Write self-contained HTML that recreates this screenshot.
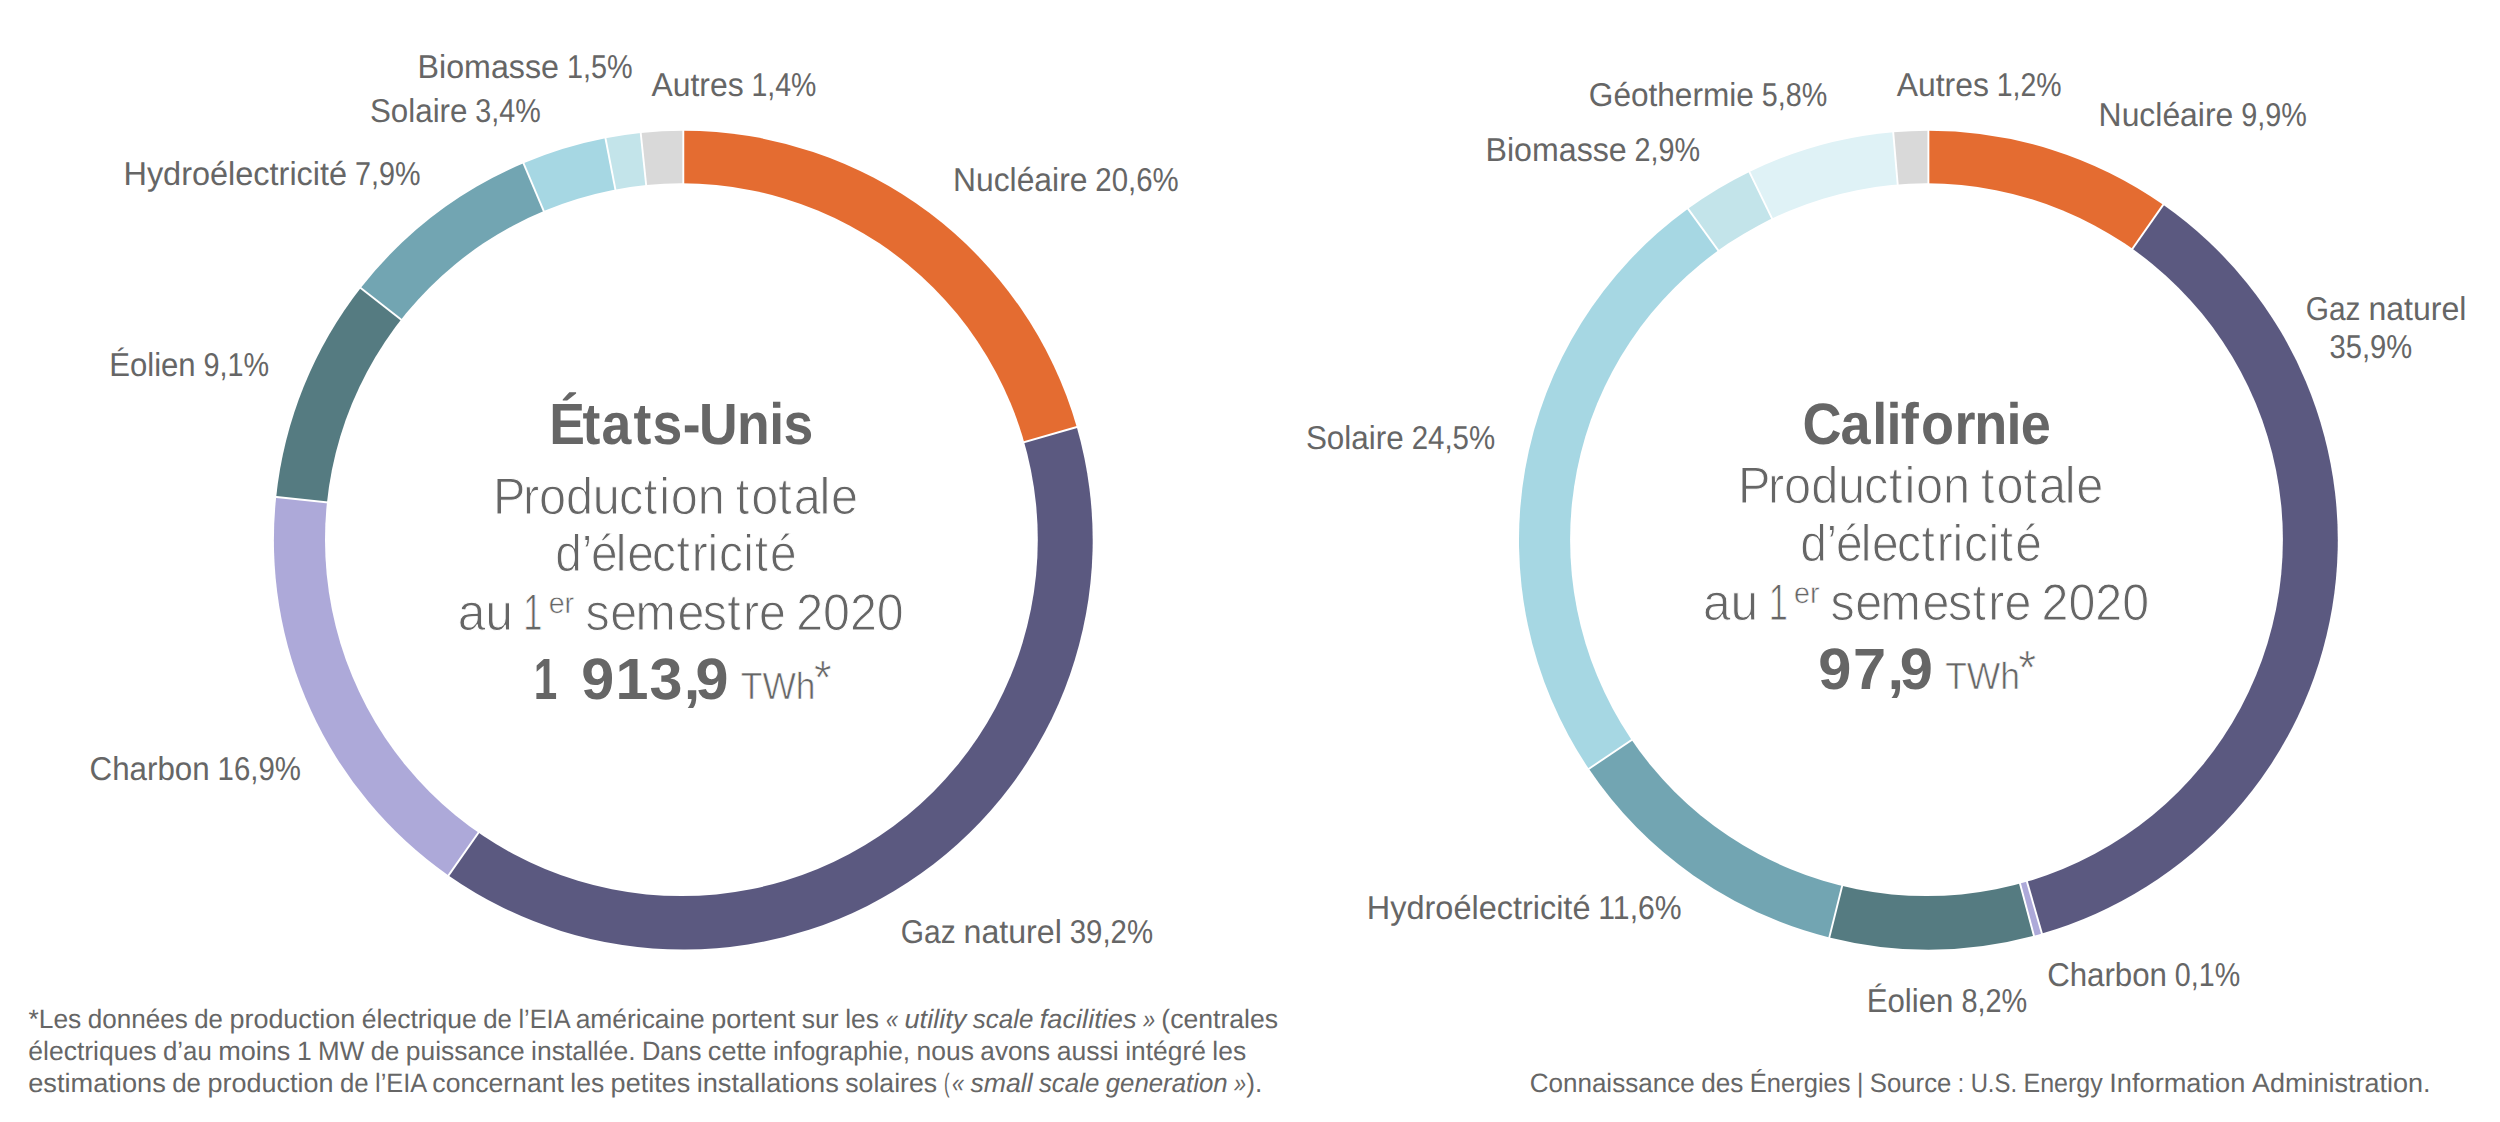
<!DOCTYPE html>
<html lang="fr"><head><meta charset="utf-8"><title>Production d’électricité : États-Unis et Californie</title>
<style>
html,body{margin:0;padding:0;background:#fff;}
body{width:2500px;height:1122px;overflow:hidden;}
svg{display:block;}
text{font-family:"Liberation Sans", sans-serif;fill:#666666;white-space:pre;text-rendering:geometricPrecision;}
</style></head><body>
<svg width="2500" height="1122" viewBox="0 0 2500 1122">
<rect width="2500" height="1122" fill="#fff"/>
<g>
<path fill="#E46C31" d="M683.3 540.15L683.30 130.75A409.4 409.4 0 0 1 1076.76 427.03Z"/>
<path fill="#5B5980" d="M683.3 540.15L1076.76 427.03A409.4 409.4 0 0 1 448.48 875.51Z"/>
<path fill="#ADA9D9" d="M683.3 540.15L448.48 875.51A409.4 409.4 0 0 1 276.18 497.00Z"/>
<path fill="#557B81" d="M683.3 540.15L276.18 497.00A409.4 409.4 0 0 1 360.69 288.10Z"/>
<path fill="#72A5B2" d="M683.3 540.15L360.69 288.10A409.4 409.4 0 0 1 523.47 163.24Z"/>
<path fill="#A6D7E3" d="M683.3 540.15L523.47 163.24A409.4 409.4 0 0 1 605.46 138.22Z"/>
<path fill="#C3E4EA" d="M683.3 540.15L605.46 138.22A409.4 409.4 0 0 1 640.72 132.97Z"/>
<path fill="#D9D9D9" d="M683.3 540.15L640.72 132.97A409.4 409.4 0 0 1 683.30 130.75Z"/>
<line x1="683.3" y1="540.15" x2="683.30" y2="128.75" stroke="#fff" stroke-width="1.9"/>
<line x1="683.3" y1="540.15" x2="1078.68" y2="426.48" stroke="#fff" stroke-width="1.9"/>
<line x1="683.3" y1="540.15" x2="447.33" y2="877.15" stroke="#fff" stroke-width="1.9"/>
<line x1="683.3" y1="540.15" x2="274.19" y2="496.79" stroke="#fff" stroke-width="1.9"/>
<line x1="683.3" y1="540.15" x2="359.11" y2="286.87" stroke="#fff" stroke-width="1.9"/>
<line x1="683.3" y1="540.15" x2="522.69" y2="161.40" stroke="#fff" stroke-width="1.9"/>
<line x1="683.3" y1="540.15" x2="605.08" y2="136.25" stroke="#fff" stroke-width="1.9"/>
<line x1="683.3" y1="540.15" x2="640.51" y2="130.98" stroke="#fff" stroke-width="1.9"/>
<circle cx="681.40" cy="539.70" r="356.4" fill="#fff"/>
</g>
<g>
<path fill="#E46C31" d="M1928.4 540.15L1928.40 130.75A409.4 409.4 0 0 1 2163.22 204.79Z"/>
<path fill="#5B5980" d="M1928.4 540.15L2163.22 204.79A409.4 409.4 0 0 1 2041.93 933.49Z"/>
<path fill="#ADA9D9" d="M1928.4 540.15L2041.93 933.49A409.4 409.4 0 0 1 2033.95 935.71Z"/>
<path fill="#557B81" d="M1928.4 540.15L2033.95 935.71A409.4 409.4 0 0 1 1829.36 937.39Z"/>
<path fill="#72A5B2" d="M1928.4 540.15L1829.36 937.39A409.4 409.4 0 0 1 1588.83 768.85Z"/>
<path fill="#A6D7E3" d="M1928.4 540.15L1588.83 768.85A409.4 409.4 0 0 1 1687.99 208.77Z"/>
<path fill="#C3E4EA" d="M1928.4 540.15L1687.99 208.77A409.4 409.4 0 0 1 1749.38 171.96Z"/>
<path fill="#DFF2F6" d="M1928.4 540.15L1749.38 171.96A409.4 409.4 0 0 1 1893.22 132.26Z"/>
<path fill="#D9D9D9" d="M1928.4 540.15L1893.22 132.26A409.4 409.4 0 0 1 1928.40 130.75Z"/>
<line x1="1928.4" y1="540.15" x2="1928.40" y2="128.75" stroke="#fff" stroke-width="1.9"/>
<line x1="1928.4" y1="540.15" x2="2164.37" y2="203.15" stroke="#fff" stroke-width="1.9"/>
<line x1="1928.4" y1="540.15" x2="2042.49" y2="935.41" stroke="#fff" stroke-width="1.9"/>
<line x1="1928.4" y1="540.15" x2="2034.46" y2="937.64" stroke="#fff" stroke-width="1.9"/>
<line x1="1928.4" y1="540.15" x2="1828.87" y2="939.33" stroke="#fff" stroke-width="1.9"/>
<line x1="1928.4" y1="540.15" x2="1587.17" y2="769.96" stroke="#fff" stroke-width="1.9"/>
<line x1="1928.4" y1="540.15" x2="1686.82" y2="207.15" stroke="#fff" stroke-width="1.9"/>
<line x1="1928.4" y1="540.15" x2="1748.51" y2="170.17" stroke="#fff" stroke-width="1.9"/>
<line x1="1928.4" y1="540.15" x2="1893.04" y2="130.27" stroke="#fff" stroke-width="1.9"/>
<circle cx="1926.50" cy="539.70" r="356.4" fill="#fff"/>
</g>
<g>
<text y="77.50" style="font-size:33.00px;"><tspan x="417.58" textLength="141.40" lengthAdjust="spacingAndGlyphs">Biomasse</tspan> <tspan x="566.90" textLength="65.68" lengthAdjust="spacingAndGlyphs">1,5%</tspan></text>
<text y="95.80" style="font-size:33.00px;"><tspan x="651.56" textLength="92.07" lengthAdjust="spacingAndGlyphs">Autres</tspan> <tspan x="751.46" textLength="64.83" lengthAdjust="spacingAndGlyphs">1,4%</tspan></text>
<text y="121.90" style="font-size:33.00px;"><tspan x="369.97" textLength="97.48" lengthAdjust="spacingAndGlyphs">Solaire</tspan> <tspan x="475.33" textLength="65.34" lengthAdjust="spacingAndGlyphs">3,4%</tspan></text>
<text y="184.60" style="font-size:33.00px;"><tspan x="123.46" textLength="223.65" lengthAdjust="spacingAndGlyphs">Hydroélectricité</tspan> <tspan x="355.01" textLength="65.42" lengthAdjust="spacingAndGlyphs">7,9%</tspan></text>
<text y="191.00" style="font-size:33.00px;"><tspan x="953.02" textLength="134.43" lengthAdjust="spacingAndGlyphs">Nucléaire</tspan> <tspan x="1095.34" textLength="83.35" lengthAdjust="spacingAndGlyphs">20,6%</tspan></text>
<text y="376.20" style="font-size:33.00px;"><tspan x="109.18" textLength="86.48" lengthAdjust="spacingAndGlyphs">Éolien</tspan> <tspan x="203.56" textLength="65.58" lengthAdjust="spacingAndGlyphs">9,1%</tspan></text>
<text y="780.20" style="font-size:33.00px;"><tspan x="89.52" textLength="120.14" lengthAdjust="spacingAndGlyphs">Charbon</tspan> <tspan x="217.55" textLength="83.34" lengthAdjust="spacingAndGlyphs">16,9%</tspan></text>
<text y="942.60" style="font-size:33.00px;"><tspan x="900.80" textLength="54.85" lengthAdjust="spacingAndGlyphs">Gaz</tspan> <tspan x="963.54" textLength="98.32" lengthAdjust="spacingAndGlyphs">naturel</tspan> <tspan x="1069.74" textLength="83.30" lengthAdjust="spacingAndGlyphs">39,2%</tspan></text>
<text y="105.80" style="font-size:33.00px;"><tspan x="1588.82" textLength="165.06" lengthAdjust="spacingAndGlyphs">Géothermie</tspan> <tspan x="1761.77" textLength="65.43" lengthAdjust="spacingAndGlyphs">5,8%</tspan></text>
<text y="160.70" style="font-size:33.00px;"><tspan x="1485.49" textLength="141.18" lengthAdjust="spacingAndGlyphs">Biomasse</tspan> <tspan x="1634.58" textLength="65.58" lengthAdjust="spacingAndGlyphs">2,9%</tspan></text>
<text y="95.80" style="font-size:33.00px;"><tspan x="1896.76" textLength="92.07" lengthAdjust="spacingAndGlyphs">Autres</tspan> <tspan x="1996.66" textLength="64.83" lengthAdjust="spacingAndGlyphs">1,2%</tspan></text>
<text y="126.20" style="font-size:33.00px;"><tspan x="2098.61" textLength="134.66" lengthAdjust="spacingAndGlyphs">Nucléaire</tspan> <tspan x="2241.18" textLength="65.55" lengthAdjust="spacingAndGlyphs">9,9%</tspan></text>
<text y="319.90" style="font-size:33.00px;"><tspan x="2305.81" textLength="54.72" lengthAdjust="spacingAndGlyphs">Gaz</tspan> <tspan x="2368.40" textLength="98.08" lengthAdjust="spacingAndGlyphs">naturel</tspan></text>
<text y="358.40" style="font-size:33.00px;"><tspan x="2329.55" textLength="82.73" lengthAdjust="spacingAndGlyphs">35,9%</tspan></text>
<text y="449.30" style="font-size:33.00px;"><tspan x="1305.88" textLength="97.86" lengthAdjust="spacingAndGlyphs">Solaire</tspan> <tspan x="1411.65" textLength="83.54" lengthAdjust="spacingAndGlyphs">24,5%</tspan></text>
<text y="918.80" style="font-size:33.00px;"><tspan x="1366.86" textLength="223.58" lengthAdjust="spacingAndGlyphs">Hydroélectricité</tspan> <tspan x="1598.33" textLength="83.29" lengthAdjust="spacingAndGlyphs">11,6%</tspan></text>
<text y="985.80" style="font-size:33.00px;"><tspan x="2047.13" textLength="119.86" lengthAdjust="spacingAndGlyphs">Charbon</tspan> <tspan x="2174.86" textLength="65.28" lengthAdjust="spacingAndGlyphs">0,1%</tspan></text>
<text y="1012.40" style="font-size:33.00px;"><tspan x="1866.67" textLength="86.78" lengthAdjust="spacingAndGlyphs">Éolien</tspan> <tspan x="1961.39" textLength="65.81" lengthAdjust="spacingAndGlyphs">8,2%</tspan></text>
<text transform="translate(549.14,443.90) scale(0.9175,1)" style="font-size:58.30px;font-kerning:none;font-variant-ligatures:none;font-weight:700;"><tspan x="0.00" dx="0 -2.60 1.44 2.31 1.44 0.50 -1.80 -0.70 -0.38 -0.70">États-Unis</tspan></text>
<text transform="translate(493.09,513.50) scale(0.9420,1)" style="font-size:51.60px;font-kerning:none;font-variant-ligatures:none;stroke:#fff;stroke-width:1.0px;"><tspan x="0.00" dx="0 -2.67 -0.15 0.01 -0.31 -0.95 0.54 2.10 0.75 0.01">Production</tspan> <tspan x="257.54" dx="0 2.10 0.01 2.10 -1.32 0.75">totale</tspan></text>
<text transform="translate(555.25,571.30) scale(0.9280,1)" style="font-size:51.60px;font-kerning:none;font-variant-ligatures:none;stroke:#fff;stroke-width:1.0px;"><tspan x="0.00" dx="0 -0.27 -1.40 -1.99 0.77 -1.99 0.59 2.13 -0.12 0.77 0.59 0.77 2.13">d’électricité</tspan></text>
<text transform="translate(457.79,629.50) scale(0.9664,1)" style="font-size:51.60px;font-kerning:none;font-variant-ligatures:none;stroke:#fff;stroke-width:1.0px;"><tspan x="0.00" dx="0 -0.19">au</tspan></text>
<text y="629.50" style="font-size:51.60px;stroke:#fff;stroke-width:1.0px;"><tspan x="523.30" textLength="19.11" lengthAdjust="spacingAndGlyphs">1</tspan></text>
<text y="613.38" style="font-size:29.50px;stroke:#fff;stroke-width:0.55px;"><tspan x="548.63" textLength="25.55" lengthAdjust="spacingAndGlyphs">er</tspan></text>
<text transform="translate(585.56,629.50) scale(0.9363,1)" style="font-size:51.60px;font-kerning:none;font-variant-ligatures:none;stroke:#fff;stroke-width:1.0px;"><tspan x="0.00" dx="0 0.51 -1.66 1.74 -1.66 0.51 2.33 0.08">semestre</tspan> <tspan x="225.01" dx="0 -0.05 -0.05 -0.05">2020</tspan></text>
<text y="699.00" style="font-size:58.30px;font-weight:700;"><tspan x="533.66" textLength="23.52" lengthAdjust="spacingAndGlyphs">1</tspan></text>
<text transform="translate(581.35,699.00) scale(1.0166,1)" style="font-size:58.30px;font-kerning:none;font-variant-ligatures:none;font-weight:700;"><tspan x="0.00" dx="0 1.12 1.12 1.12 -4.47">913,9</tspan></text>
<text y="699.35" style="font-size:37.80px;stroke:#fff;stroke-width:0.7px;"><tspan x="740.74" textLength="74.80" lengthAdjust="spacingAndGlyphs">TWh</tspan></text>
<text y="694.33" style="font-size:48.07px;stroke:#fff;stroke-width:0.7px;"><tspan x="814.05" textLength="17.57" lengthAdjust="spacingAndGlyphs">*</tspan></text>
<text transform="translate(1802.48,443.90) scale(0.9264,1)" style="font-size:58.30px;font-kerning:none;font-variant-ligatures:none;font-weight:700;"><tspan x="0.00" dx="0 -1.02 1.91 -0.88 -0.88 2.50 0.38 -1.33 -0.79 -0.88">Californie</tspan></text>
<text transform="translate(1738.09,503.10) scale(0.9429,1)" style="font-size:51.60px;font-kerning:none;font-variant-ligatures:none;stroke:#fff;stroke-width:1.0px;"><tspan x="0.00" dx="0 -2.67 -0.15 0.01 -0.31 -0.95 0.54 2.10 0.75 0.01">Production</tspan> <tspan x="257.54" dx="0 2.10 0.01 2.10 -1.32 0.75">totale</tspan></text>
<text transform="translate(1800.15,561.20) scale(0.9291,1)" style="font-size:51.60px;font-kerning:none;font-variant-ligatures:none;stroke:#fff;stroke-width:1.0px;"><tspan x="0.00" dx="0 -0.27 -1.40 -1.99 0.77 -1.99 0.59 2.13 -0.12 0.77 0.59 0.77 2.13">d’électricité</tspan></text>
<text transform="translate(1702.99,619.50) scale(0.9649,1)" style="font-size:51.60px;font-kerning:none;font-variant-ligatures:none;stroke:#fff;stroke-width:1.0px;"><tspan x="0.00" dx="0 -0.19">au</tspan></text>
<text y="619.50" style="font-size:51.60px;stroke:#fff;stroke-width:1.0px;"><tspan x="1768.70" textLength="19.11" lengthAdjust="spacingAndGlyphs">1</tspan></text>
<text y="603.17" style="font-size:29.50px;stroke:#fff;stroke-width:0.55px;"><tspan x="1794.03" textLength="25.55" lengthAdjust="spacingAndGlyphs">er</tspan></text>
<text transform="translate(1830.56,619.50) scale(0.9378,1)" style="font-size:51.60px;font-kerning:none;font-variant-ligatures:none;stroke:#fff;stroke-width:1.0px;"><tspan x="0.00" dx="0 0.51 -1.66 1.74 -1.66 0.51 2.33 0.08">semestre</tspan> <tspan x="225.01" dx="0 -0.05 -0.05 -0.05">2020</tspan></text>
<text transform="translate(1818.34,689.00) scale(1.0219,1)" style="font-size:58.30px;font-kerning:none;font-variant-ligatures:none;font-weight:700;"><tspan x="0.00" dx="0 1.45 1.45 -4.36">97,9</tspan></text>
<text y="689.35" style="font-size:37.80px;stroke:#fff;stroke-width:0.7px;"><tspan x="1945.14" textLength="74.88" lengthAdjust="spacingAndGlyphs">TWh</tspan></text>
<text y="684.33" style="font-size:48.03px;stroke:#fff;stroke-width:0.7px;"><tspan x="2018.18" textLength="17.85" lengthAdjust="spacingAndGlyphs">*</tspan></text>
<text y="1028.30" style="font-size:26.60px;"><tspan x="28.44" textLength="52.82" lengthAdjust="spacingAndGlyphs">*Les</tspan> <tspan x="87.76" textLength="100.00" lengthAdjust="spacingAndGlyphs">données</tspan> <tspan x="194.25" textLength="28.69" lengthAdjust="spacingAndGlyphs">de</tspan> <tspan x="229.43" textLength="125.88" lengthAdjust="spacingAndGlyphs">production</tspan> <tspan x="361.80" textLength="114.95" lengthAdjust="spacingAndGlyphs">électrique</tspan> <tspan x="483.24" textLength="28.69" lengthAdjust="spacingAndGlyphs">de</tspan> <tspan x="518.42" textLength="50.75" lengthAdjust="spacingAndGlyphs">l’EIA</tspan> <tspan x="575.66" textLength="129.11" lengthAdjust="spacingAndGlyphs">américaine</tspan> <tspan x="711.27" textLength="84.05" lengthAdjust="spacingAndGlyphs">portent</tspan> <tspan x="801.80" textLength="36.86" lengthAdjust="spacingAndGlyphs">sur</tspan> <tspan x="845.15" textLength="33.78" lengthAdjust="spacingAndGlyphs">les</tspan></text>
<text y="1028.30" style="font-size:26.60px;font-style:italic;"><tspan x="886.00" textLength="12.08" lengthAdjust="spacingAndGlyphs">«</tspan> <tspan x="904.46" textLength="61.95" lengthAdjust="spacingAndGlyphs">utility</tspan> <tspan x="972.78" textLength="60.66" lengthAdjust="spacingAndGlyphs">scale</tspan> <tspan x="1039.81" textLength="96.75" lengthAdjust="spacingAndGlyphs">facilities</tspan> <tspan x="1142.94" textLength="12.08" lengthAdjust="spacingAndGlyphs">»</tspan></text>
<text y="1028.30" style="font-size:26.60px;"><tspan x="1161.34" textLength="116.76" lengthAdjust="spacingAndGlyphs">(centrales</tspan></text>
<text y="1060.10" style="font-size:26.60px;"><tspan x="28.26" textLength="128.29" lengthAdjust="spacingAndGlyphs">électriques</tspan> <tspan x="163.03" textLength="48.69" lengthAdjust="spacingAndGlyphs">d’au</tspan> <tspan x="218.20" textLength="72.20" lengthAdjust="spacingAndGlyphs">moins</tspan> <tspan x="296.89" textLength="14.71" lengthAdjust="spacingAndGlyphs">1</tspan> <tspan x="318.08" textLength="46.10" lengthAdjust="spacingAndGlyphs">MW</tspan> <tspan x="370.67" textLength="28.65" lengthAdjust="spacingAndGlyphs">de</tspan> <tspan x="405.80" textLength="118.78" lengthAdjust="spacingAndGlyphs">puissance</tspan> <tspan x="531.06" textLength="104.47" lengthAdjust="spacingAndGlyphs">installée.</tspan> <tspan x="642.01" textLength="59.38" lengthAdjust="spacingAndGlyphs">Dans</tspan> <tspan x="707.88" textLength="58.57" lengthAdjust="spacingAndGlyphs">cette</tspan> <tspan x="772.93" textLength="137.13" lengthAdjust="spacingAndGlyphs">infographie,</tspan> <tspan x="916.54" textLength="57.33" lengthAdjust="spacingAndGlyphs">nous</tspan> <tspan x="980.36" textLength="69.83" lengthAdjust="spacingAndGlyphs">avons</tspan> <tspan x="1056.67" textLength="62.05" lengthAdjust="spacingAndGlyphs">aussi</tspan> <tspan x="1125.20" textLength="80.67" lengthAdjust="spacingAndGlyphs">intégré</tspan> <tspan x="1212.36" textLength="33.74" lengthAdjust="spacingAndGlyphs">les</tspan></text>
<text y="1091.70" style="font-size:26.60px;"><tspan x="28.22" textLength="137.55" lengthAdjust="spacingAndGlyphs">estimations</tspan> <tspan x="172.26" textLength="28.70" lengthAdjust="spacingAndGlyphs">de</tspan> <tspan x="207.46" textLength="125.94" lengthAdjust="spacingAndGlyphs">production</tspan> <tspan x="339.89" textLength="28.70" lengthAdjust="spacingAndGlyphs">de</tspan> <tspan x="375.09" textLength="50.77" lengthAdjust="spacingAndGlyphs">l’EIA</tspan> <tspan x="432.35" textLength="131.49" lengthAdjust="spacingAndGlyphs">concernant</tspan> <tspan x="570.33" textLength="33.80" lengthAdjust="spacingAndGlyphs">les</tspan> <tspan x="610.63" textLength="79.56" lengthAdjust="spacingAndGlyphs">petites</tspan> <tspan x="696.68" textLength="142.13" lengthAdjust="spacingAndGlyphs">installations</tspan> <tspan x="845.31" textLength="91.81" lengthAdjust="spacingAndGlyphs">solaires</tspan></text>
<text y="1091.70" style="font-size:26.60px;"><tspan x="943.95" textLength="5.57" lengthAdjust="spacingAndGlyphs">(</tspan></text>
<text y="1091.70" style="font-size:26.60px;font-style:italic;"><tspan x="952.00" textLength="12.05" lengthAdjust="spacingAndGlyphs">«</tspan> <tspan x="970.40" textLength="62.17" lengthAdjust="spacingAndGlyphs">small</tspan> <tspan x="1038.93" textLength="60.48" lengthAdjust="spacingAndGlyphs">scale</tspan> <tspan x="1105.76" textLength="121.85" lengthAdjust="spacingAndGlyphs">generation</tspan> <tspan x="1233.97" textLength="12.05" lengthAdjust="spacingAndGlyphs">»</tspan></text>
<text y="1091.70" style="font-size:26.60px;"><tspan x="1246.35" textLength="16.06" lengthAdjust="spacingAndGlyphs">).</tspan></text>
<text y="1091.60" style="font-size:26.60px;"><tspan x="1529.67" textLength="164.99" lengthAdjust="spacingAndGlyphs">Connaissance</tspan> <tspan x="1701.15" textLength="42.20" lengthAdjust="spacingAndGlyphs">des</tspan> <tspan x="1749.85" textLength="100.63" lengthAdjust="spacingAndGlyphs">Énergies</tspan> <tspan x="1856.97" textLength="6.39" lengthAdjust="spacingAndGlyphs">|</tspan> <tspan x="1869.85" textLength="81.46" lengthAdjust="spacingAndGlyphs">Source</tspan> <tspan x="1957.81" textLength="6.35" lengthAdjust="spacingAndGlyphs">:</tspan> <tspan x="1970.65" textLength="46.37" lengthAdjust="spacingAndGlyphs">U.S.</tspan> <tspan x="2023.51" textLength="79.26" lengthAdjust="spacingAndGlyphs">Energy</tspan> <tspan x="2109.26" textLength="136.14" lengthAdjust="spacingAndGlyphs">Information</tspan> <tspan x="2251.90" textLength="178.56" lengthAdjust="spacingAndGlyphs">Administration.</tspan></text>
</g>
</svg>
</body></html>
